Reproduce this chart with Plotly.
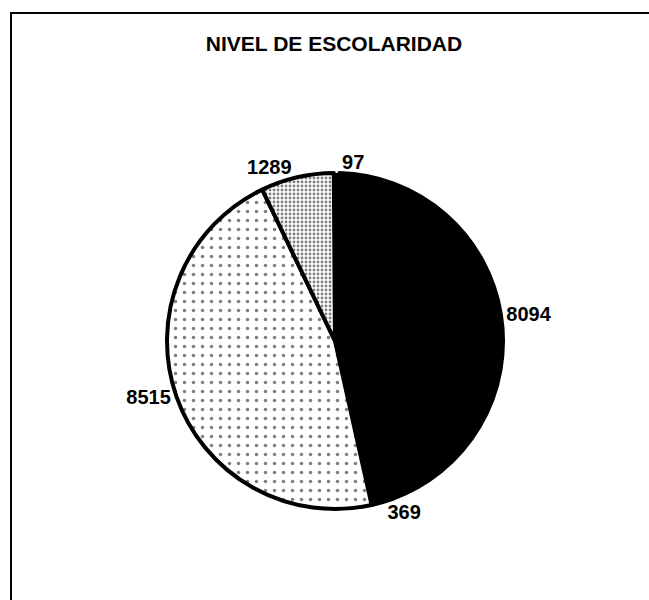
import plotly.graph_objects as go

# Nivel de escolaridad: counts per category, clockwise from just past 12 o'clock
categories = ["Categoría A", "Categoría B", "Categoría C", "Categoría D", "Categoría E"]
values = [8094, 369, 8515, 1289, 97]

fill_colors = ["#000000", "#000000", "#ffffff", "#ffffff", "#000000"]
pattern_shapes = ["", "", ".", ".", ""]
pattern_sizes = [8, 8, 9, 4, 8]
pattern_solidity = [0.2, 0.2, 0.12, 0.4, 0.2]
border_widths = [4, 4, 4, 4, 0]

W, H = 649, 600
cx, cy, rad = 335, 341, 168

fig = go.Figure()

# empty cartesian trace: its axis lines form the chart frame (top and left edges)
fig.add_trace(go.Scatter(x=[], y=[], showlegend=False, hoverinfo="skip"))

fig.add_trace(
    go.Pie(
        labels=categories,
        values=values,
        sort=False,
        direction="clockwise",
        rotation=1.5,
        textinfo="value",
        textposition="outside",
        texttemplate="%{value}",
        textfont=dict(family="Liberation Sans", size=20, color="#000000", weight="bold"),
        marker=dict(
            colors=fill_colors,
            line=dict(color="#000000", width=border_widths),
            pattern=dict(
                shape=pattern_shapes,
                size=pattern_sizes,
                solidity=pattern_solidity,
                fgcolor="#000000",
                bgcolor=fill_colors,
                fillmode="overlay",
            ),
        ),
        domain=dict(
            x=[(cx - rad) / W, (cx + rad) / W],
            y=[1 - (cy + rad) / H, 1 - (cy - rad) / H],
        ),
        showlegend=False,
        hoverinfo="label+value+percent",
    )
)

frame_axis = dict(
    showline=True,
    linecolor="#000000",
    linewidth=2,
    showgrid=False,
    zeroline=False,
    showticklabels=False,
    ticks="",
    fixedrange=True,
)

fig.update_layout(
    width=W,
    height=H,
    margin=dict(l=0, r=0, t=0, b=0),
    paper_bgcolor="#ffffff",
    plot_bgcolor="rgba(0,0,0,0)",
    xaxis=dict(frame_axis, domain=[12 / W, 1], side="top"),
    yaxis=dict(frame_axis, domain=[0, 1 - 14 / H], side="left"),
    title=dict(
        text="NIVEL DE ESCOLARIDAD",
        x=334 / W,
        xanchor="center",
        y=1 - 44 / H,
        yanchor="middle",
        font=dict(family="Liberation Sans", size=21, color="#000000", weight="bold"),
    ),
)

fig.write_html("out.html")
